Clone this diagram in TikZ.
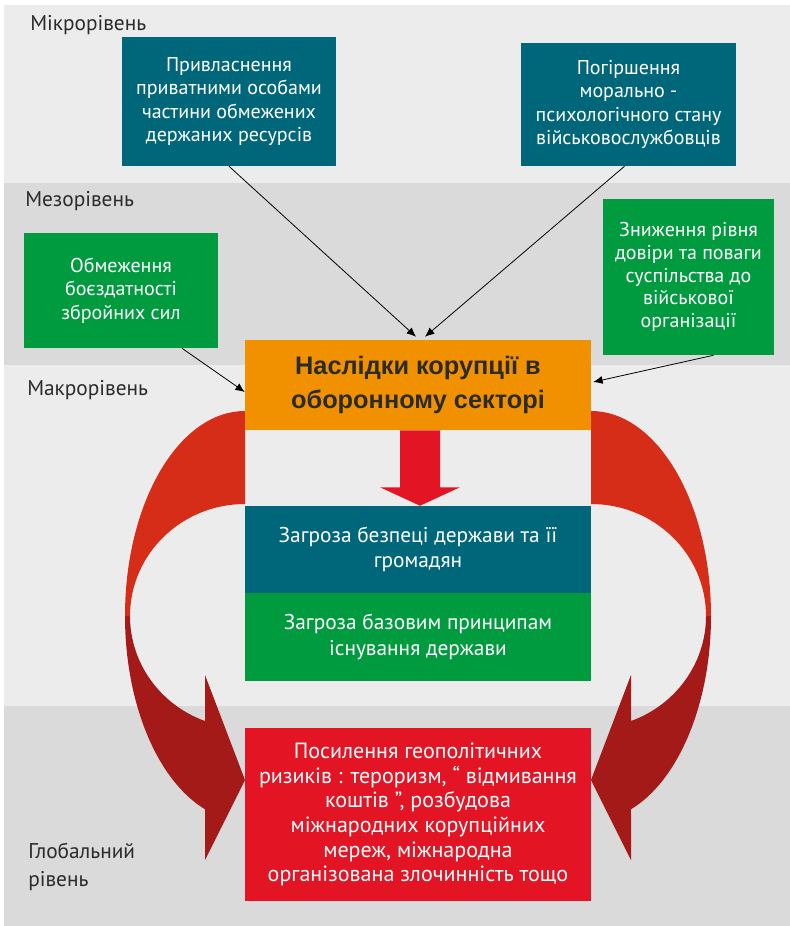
\documentclass[tikz,border=0pt]{standalone}
\usepackage{fontspec}
\setmainfont{PT Sans}
\newfontfamily\titlefont{Liberation Sans}
\usetikzlibrary{arrows.meta,calc,positioning}

\definecolor{bandlight}{HTML}{ECECEC}
\definecolor{banddark}{HTML}{DADADA}
\definecolor{boxteal}{HTML}{00677B}
\definecolor{boxgreen}{HTML}{009B3F}
\definecolor{boxorange}{HTML}{F29100}
\definecolor{boxred}{HTML}{E31423}
\definecolor{ribbonlight}{HTML}{D62D18}
\definecolor{ribbondark}{HTML}{A31A18}
\definecolor{labelgray}{HTML}{2B2B2B}

\tikzset{
  level/.style={anchor=base west, inner sep=0pt, text=labelgray,
    font=\fontsize{16}{21}\selectfont},
  box/.style={inner sep=0pt, align=center, text=white,
    font=\fontsize{15}{17.5}\selectfont},
  link/.style={-{Latex[length=7pt,width=6pt]}, line width=0.6pt, black},
}

\begin{document}
\begin{tikzpicture}[x=0.75pt,y=-0.75pt]
\useasboundingbox (0,0) rectangle (790,926);

% levels
\fill[bandlight] (4,5) rectangle (790,183);
\fill[banddark] (4,183) rectangle (790,365);
\fill[bandlight] (4,365) rectangle (790,706);
\fill[banddark] (4,706) rectangle (790,926);

\node[level] (micro) at (30,30) {Мікрорівень};
\node[level] (meso) at (25,206) {Мезорівень};
\node[level] (macro) at (27,395) {Макрорівень};
\node[level, anchor=west, align=left] (global) at (28,867) {Глобальний\\рівень};

% curved ribbons
\fill[ribbondark] (125,616)
  arc[start angle=180, end angle=109.47, x radius=120, y radius=205]
  -- (205,860) -- (245,780) -- (205,675) -- (205,721)
  arc[start angle=110.35, end angle=180, x radius=115, y radius=112] -- cycle;
\fill[ribbonlight] (245,411)
  arc[start angle=270, end angle=180, x radius=120, y radius=205]
  -- (130,616)
  arc[start angle=180, end angle=270, x radius=115, y radius=112] -- cycle;
\fill[ribbondark] (711,616)
  arc[start angle=0, end angle=70.53, x radius=120, y radius=205]
  -- (631,860) -- (591,780) -- (631,675) -- (631,721)
  arc[start angle=69.65, end angle=0, x radius=115, y radius=112] -- cycle;
\fill[ribbonlight] (591,411)
  arc[start angle=-90, end angle=0, x radius=120, y radius=205]
  -- (706,616)
  arc[start angle=0, end angle=-90, x radius=115, y radius=112] -- cycle;

% boxes
\node[box, fill=boxteal, minimum width=160.5pt, minimum height=96.75pt]
  (micro1) at (229,101.5)
  {Привласнення\\приватними особами\\частини обмежених\\держаних ресурсів};
\node[box, fill=boxteal, minimum width=161.25pt, minimum height=92.25pt]
  (micro2) at (628.5,104.5)
  {Погіршення\\морально -\\психологічного стану\\військовослужбовців};
\node[box, fill=boxgreen, minimum width=145.5pt, minimum height=86.25pt]
  (meso1) at (121,290.5)
  {Обмеження\\боєздатності\\збройних сил};
\node[box, fill=boxgreen, minimum width=128.25pt, minimum height=117pt,
  font=\fontsize{15}{17}\selectfont]
  (meso2) at (688.5,277)
  {Зниження рівня\\довіри та поваги\\суспільства до\\військової\\організації};
\node[box, fill=boxorange, text=labelgray, minimum width=259.5pt, minimum height=67.5pt,
  font=\titlefont\bfseries\fontsize{19}{25}\selectfont]
  (centre) at (418,385)
  {Наслідки корупції в\\оборонному секторі};
\node[box, fill=boxteal, minimum width=259.5pt, minimum height=65.25pt,
  font=\fontsize{16}{18.75}\selectfont]
  (threat1) at (418,549.5)
  {Загроза безпеці держави та її\\громадян};
\node[box, fill=boxgreen, minimum width=259.5pt, minimum height=66pt,
  font=\fontsize{16}{19.5}\selectfont]
  (threat2) at (418,637)
  {Загроза базовим принципам\\існування держави};
\node[box, fill=boxred, minimum width=259.5pt, minimum height=129.75pt,
  font=\fontsize{16.5}{18.5}\selectfont]
  (risks) at (418,814.5)
  {Посилення геополітичних\\ризиків : тероризм, “ відмивання\\коштів ”, розбудова\\міжнародних корупційних\\мереж, міжнародна\\організована злочинність тощо};

% links
\draw[link] (micro1.south) -- ($(centre.north)+(-2,-3)$);
\draw[link] ($(micro2.south)+(-4,0)$) -- ($(centre.north)+(7,-3)$);
\draw[link] ($(meso1.south)+(61,0)$) -- ($(centre.west)+(0,7)$);
\draw[link] ($(meso2.south)+(25,0)$) -- ($(centre.east)+(2,-3)$);

% block arrow
\fill[boxred] ($(centre.south)+(-18,0)$) -- ($(centre.south)+(22,0)$)
  -- ($(centre.south)+(22,57)$) -- ($(centre.south)+(42,57)$)
  -- ($(threat1.north)+(2,0)$)
  -- ($(centre.south)+(-38,57)$) -- ($(centre.south)+(-18,57)$) -- cycle;
\end{tikzpicture}
\end{document}
